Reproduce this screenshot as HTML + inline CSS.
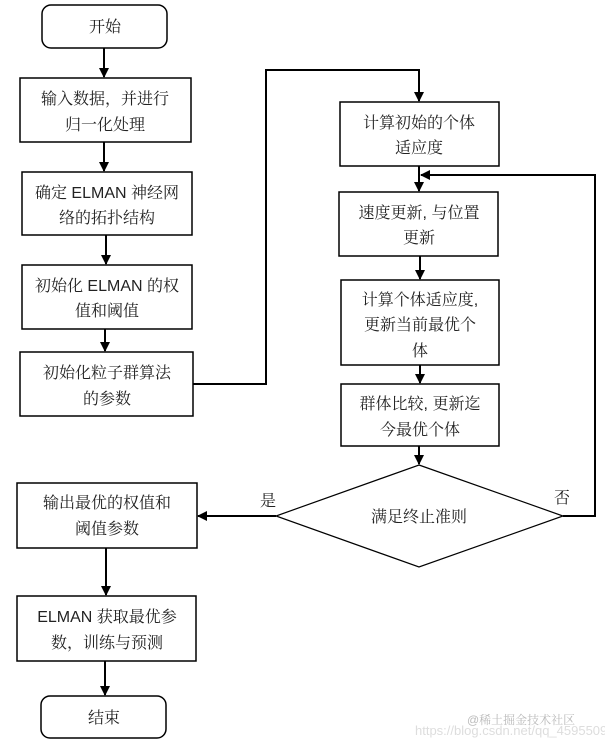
<!DOCTYPE html>
<html><head><meta charset="utf-8"><style>
html,body{margin:0;padding:0;background:#fff;width:605px;height:746px;overflow:hidden}
text{font-family:"Liberation Sans","Noto Serif CJK SC",serif;font-size:16px;fill:#222}
</style></head><body>
<svg width="605" height="746" xmlns="http://www.w3.org/2000/svg">
<defs><marker id="a" markerWidth="10" markerHeight="10" refX="9" refY="5" orient="auto" markerUnits="userSpaceOnUse"><path d="M0,0 L10,5 L0,10 z" fill="#000"/></marker></defs>
<g fill="none" stroke="#000" stroke-width="1.5">
<rect x="42" y="5" width="125" height="43" rx="9"/>
<rect x="20" y="78" width="171" height="64"/>
<rect x="22" y="172" width="170" height="63"/>
<rect x="22" y="265" width="170" height="64"/>
<rect x="20" y="352" width="173" height="64"/>
<rect x="340" y="102" width="159" height="64"/>
<rect x="339" y="192" width="159" height="64"/>
<rect x="341" y="280" width="158" height="85"/>
<rect x="341" y="384" width="158" height="62"/>
<path d="M419,465 L563,516 L419,567 L276,516 z" stroke-width="1.2"/>
<rect x="17" y="483" width="180" height="65"/>
<rect x="17" y="596" width="179" height="65"/>
<rect x="41" y="696" width="125" height="42" rx="9"/>
<g stroke-width="2">
<line x1="104" y1="48" x2="104" y2="77" marker-end="url(#a)"/>
<line x1="104" y1="142" x2="104" y2="171" marker-end="url(#a)"/>
<line x1="106" y1="235" x2="106" y2="264" marker-end="url(#a)"/>
<line x1="105" y1="329" x2="105" y2="351" marker-end="url(#a)"/>
<polyline points="193,384 266,384 266,70 419,70 419,101" marker-end="url(#a)"/>
<line x1="419" y1="166" x2="419" y2="191" marker-end="url(#a)"/>
<polyline points="563,516 595,516 595,175 421,175" marker-end="url(#a)"/>
<line x1="420" y1="256" x2="420" y2="279" marker-end="url(#a)"/>
<line x1="420" y1="365" x2="420" y2="383" marker-end="url(#a)"/>
<line x1="419" y1="446" x2="419" y2="464" marker-end="url(#a)"/>
<line x1="276" y1="516" x2="198" y2="516" marker-end="url(#a)"/>
<line x1="106" y1="548" x2="106" y2="595" marker-end="url(#a)"/>
<line x1="105" y1="661" x2="105" y2="695" marker-end="url(#a)"/>
</g></g>
<g text-anchor="middle">
<text x="105" y="32">开始</text>
<text x="105" y="104">输入数据，并进行</text><text x="105" y="130">归一化处理</text>
<text x="107" y="198">确定 ELMAN 神经网</text><text x="107" y="223">络的拓扑结构</text>
<text x="107" y="291">初始化 ELMAN 的权</text><text x="107" y="316">值和阈值</text>
<text x="107" y="378">初始化粒子群算法</text><text x="107" y="404">的参数</text>
<text x="419" y="128">计算初始的个体</text><text x="419" y="153">适应度</text>
<text x="419" y="218">速度更新, 与位置</text><text x="419" y="243">更新</text>
<text x="420" y="305">计算个体适应度,</text><text x="420" y="330">更新当前最优个</text><text x="420" y="356">体</text>
<text x="420" y="409">群体比较, 更新迄</text><text x="420" y="435">今最优个体</text>
<text x="419" y="522">满足终止准则</text>
<text x="268" y="506">是</text>
<text x="562" y="503">否</text>
<text x="107" y="508">输出最优的权值和</text><text x="107" y="534">阈值参数</text>
<text x="107" y="622">ELMAN 获取最优参</text><text x="107" y="648">数，训练与预测</text>
<text x="104" y="723">结束</text>
</g>
<text x="467" y="724" style="font-size:12px;fill:#bbb">@稀土掘金技术社区</text>
<text x="415" y="735" style="font-size:13px;fill:#ddd">https://blog.csdn.net/qq_45955094</text>
</svg>
</body></html>
